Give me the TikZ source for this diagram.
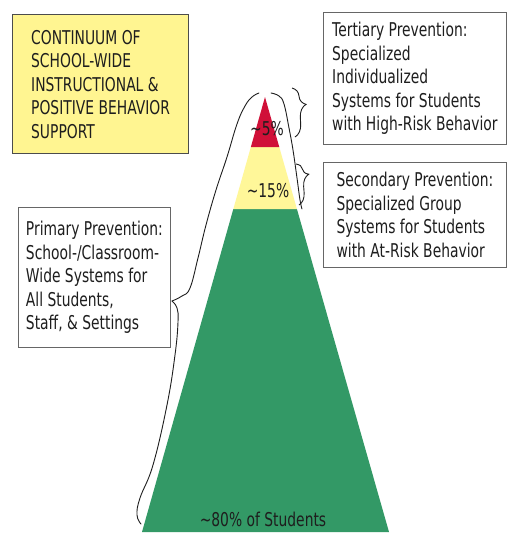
\documentclass[tikz,border=0pt]{standalone}
\usepackage{fontspec}
\setmainfont{DejaVu Sans}[FakeStretch=0.73]
\usetikzlibrary{calc,decorations.pathreplacing}
\definecolor{tipred}{RGB}{208,16,56}
\definecolor{tipyellow}{RGB}{255,247,153}
\definecolor{tipgreen}{RGB}{51,153,102}
\definecolor{titlefill}{RGB}{255,245,145}
\definecolor{inkgray}{RGB}{30,30,30}
\tikzset{
  infobox/.style={draw=black!60,fill=white,line width=0.8pt,text=inkgray,align=left,anchor=north west,
    font=\fontsize{19}{23.5}\selectfont},
  titlebox/.style={infobox,fill=titlefill,draw=black!70,line width=1.2pt},
  pct/.style={text=inkgray,inner sep=0pt,font=\fontsize{19}{23.5}\selectfont},
  curly/.style={decorate,draw=inkgray,line width=0.9pt},
  handline/.style={draw=inkgray,line width=0.9pt,line cap=round}
}

\begin{document}
\begin{tikzpicture}[x=1pt,y=-1pt]
    \useasboundingbox[fill=white] (0,0) rectangle (515,542);
    \coordinate (apex) at (265,97);
    \coordinate (bl) at (142,532);
    \coordinate (br) at (389,532);
    \coordinate (redl) at ($(apex)!0.115!(bl)$);
    \coordinate (redr) at ($(apex)!0.115!(br)$);
    \coordinate (yell) at ($(apex)!0.2575!(bl)$);
    \coordinate (yelr) at ($(apex)!0.2575!(br)$);
    \fill[tipgreen] (yell)--(yelr)--(br)--(bl)--cycle;
    \fill[tipyellow] (redl)--(redr)--(yelr)--(yell)--cycle;
    \fill[tipred] (apex)--(redr)--(redl)--cycle;
    \node[pct] (pct5) at (267,129) {\textasciitilde5\%};
    \node[pct] (pct15) at (268,191) {\textasciitilde15\%};
    \node[pct] (pct80) at (263,519) {\textasciitilde80\% of Students};
    \node[titlebox,minimum width=176pt,minimum height=139pt] (title) at (12,14)
      {CONTINUUM OF\\SCHOOL-WIDE\\INSTRUCTIONAL \&\\POSITIVE BEHAVIOR\\SUPPORT};
    \node[infobox,minimum width=183pt,minimum height=132pt] (tertiary) at (323,12)
      {Tertiary Prevention:\\Specialized\\Individualized\\Systems for Students\\with High-Risk Behavior};
    \node[infobox,minimum width=183pt,minimum height=105pt] (secondary) at (323,162)
      {Secondary Prevention:\\Specialized Group\\Systems for Students\\with At-Risk Behavior};
    \node[infobox,minimum width=152pt,minimum height=140pt] (primary) at (18,207)
      {Primary Prevention:\\School-/Classroom-\\Wide Systems for\\All Students,\\Staff, \& Settings};
    \draw[curly,decoration={brace,amplitude=13pt,aspect=0.35}] (292,88) -- (295,137);
    \draw[curly,decoration={brace,amplitude=12pt,aspect=0.27}] (296,164) -- (299,205);
    \draw[handline] plot[smooth,tension=0.7] coordinates {(141,524) (137,515) (140,498) (153,465) (167,405) (175,355) (178,322) (177,308) (172,301)};
    \draw[handline] plot[smooth,tension=0.7] coordinates {(172,301) (182,296) (190,288) (198,258) (206,225) (216,190) (227,157) (237,124) (245,106) (252,97) (259,93)};
    \draw[handline] plot[smooth,tension=0.7] coordinates {(271,93) (279,96) (284,104) (289,128) (293,150) (297,178) (300,200) (302,209)};
  \end{tikzpicture}
\end{document}
